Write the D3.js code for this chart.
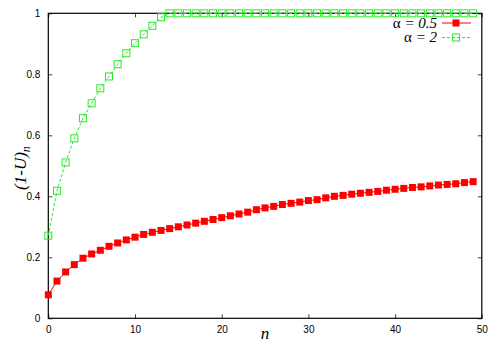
<!DOCTYPE html>
<html><head><meta charset="utf-8">
<script src="https://cdn.jsdelivr.net/npm/d3@7"></script>
<style>body{margin:0;background:#fff}svg{display:block}</style>
</head><body>
<svg id="c" width="500" height="350"></svg>
<script>
const nValues = d3.range(0, 50);
const alphaHalf = [0.077,0.122,0.152,0.176,0.197,0.211,0.223,0.236,0.247,0.257,
  0.266,0.275,0.282,0.288,0.294,0.300,0.306,0.312,0.318,0.324,
  0.330,0.336,0.342,0.348,0.356,0.362,0.367,0.373,0.377,0.381,
  0.386,0.389,0.395,0.400,0.403,0.407,0.410,0.413,0.416,0.420,
  0.423,0.426,0.429,0.431,0.434,0.437,0.439,0.441,0.445,0.448];
const alphaTwo = [0.271,0.418,0.511,0.590,0.656,0.705,0.754,0.793,0.833,0.869,
  0.902,0.931,0.959,0.987,1,1,1,1,1,1,1,1,1,1,1,1,1,1,1,1,
  1,1,1,1,1,1,1,1,1,1,1,1,1,1,1,1,1,1,1,1];
const xTicks = [0,10,20,30,40,50];
const yTicks = [0,0.2,0.4,0.6,0.8,1];
const yTickLabels = ["0","0.2","0.4","0.6","0.8","1"];
const seriesLabels = [["α"," = 0.5"],["α"," = 2"]];

const svg = d3.select("#c");
const L=48.3, R=481.8, T=13.3, B=318.3;
const x = d3.scaleLinear().domain([0,50]).range([L,R]);
const y = d3.scaleLinear().domain([0,1]).range([B,T]);
const tickFont = "Liberation Sans, Arial, sans-serif";

// axes
const ax = svg.append("g");
ax.append("g").attr("transform",`translate(0,${B})`)
  .call(d3.axisBottom(x).tickValues(xTicks).tickSizeInner(-4).tickSizeOuter(0).tickPadding(8).tickFormat(d3.format("d")));
ax.append("g").attr("transform",`translate(0,${T})`)
  .call(d3.axisTop(x).tickValues(xTicks).tickSizeInner(-4).tickSizeOuter(0).tickFormat(""));
ax.append("g").attr("transform",`translate(${L},0)`)
  .call(d3.axisLeft(y).tickValues(yTicks).tickSizeInner(-4).tickSizeOuter(0).tickPadding(8).tickFormat((d,i)=>yTickLabels[i]));
ax.append("g").attr("transform",`translate(${R},0)`)
  .call(d3.axisRight(y).tickValues(yTicks).tickSizeInner(-4).tickSizeOuter(0).tickFormat(""));
ax.selectAll(".domain").remove();
ax.selectAll(".tick line").attr("stroke","#444");
ax.selectAll(".tick text").attr("font-family",tickFont).attr("font-size",10).attr("fill","#000");
svg.append("rect").attr("x",L).attr("y",T).attr("width",R-L).attr("height",B-T)
  .attr("fill","none").attr("stroke","#000").attr("stroke-width",1.2);

const red="#ff0000", green="#22ee22";
const line = d3.line().x((d,i)=>x(nValues[i])).y(d=>y(d));

// alpha = 2
svg.append("path").datum(alphaTwo).attr("d",line).attr("fill","none")
  .attr("stroke",green).attr("stroke-width",1).attr("stroke-dasharray","3,2");
svg.append("g").selectAll("rect").data(alphaTwo).join("rect")
  .attr("x",(d,i)=>x(nValues[i])-3.5).attr("y",d=>y(d)-3.5)
  .attr("width",7).attr("height",7).attr("fill","none").attr("stroke",green).attr("stroke-width",1);

// alpha = 0.5
svg.append("path").datum(alphaHalf).attr("d",line).attr("fill","none")
  .attr("stroke",red).attr("stroke-width",1);
svg.append("g").selectAll("rect").data(alphaHalf).join("rect")
  .attr("x",(d,i)=>x(nValues[i])-3.5).attr("y",d=>y(d)-3.5)
  .attr("width",7).attr("height",7).attr("fill",red);

// legend
const lg = svg.append("g");
const serif = "Liberation Serif, Times New Roman, serif";
[[seriesLabels[0],red,true,23],[seriesLabels[1],green,false,37.5]].forEach(([t,c,filled,yy])=>{
  const tx = lg.append("text").attr("x",437).attr("y",yy+4.5).attr("text-anchor","end")
    .attr("font-family",serif).attr("font-size",15);
  tx.append("tspan").text(t[0]);
  tx.append("tspan").attr("font-style","italic").text(t[1]);
  lg.append("line").attr("x1",442).attr("x2",471).attr("y1",yy).attr("y2",yy)
    .attr("stroke",c).attr("stroke-width",1).attr("stroke-dasharray",filled?null:"3,2");
  lg.append("rect").attr("x",456-3.5).attr("y",yy-3.5).attr("width",7).attr("height",7)
    .attr("fill",filled?c:"none").attr("stroke",filled?"none":c);
});

// axis labels
svg.append("text").attr("x",265).attr("y",339).attr("text-anchor","middle")
  .attr("font-family",serif).attr("font-style","italic").attr("font-size",17).text("n");
const yl = svg.append("text").attr("transform","translate(26,168) rotate(-90)")
  .attr("text-anchor","middle").attr("font-family",serif).attr("font-style","italic").attr("font-size",17);
yl.append("tspan").text("(1-U)");
yl.append("tspan").attr("font-size",12).attr("dy",4).text("n");
</script>
</body></html>
